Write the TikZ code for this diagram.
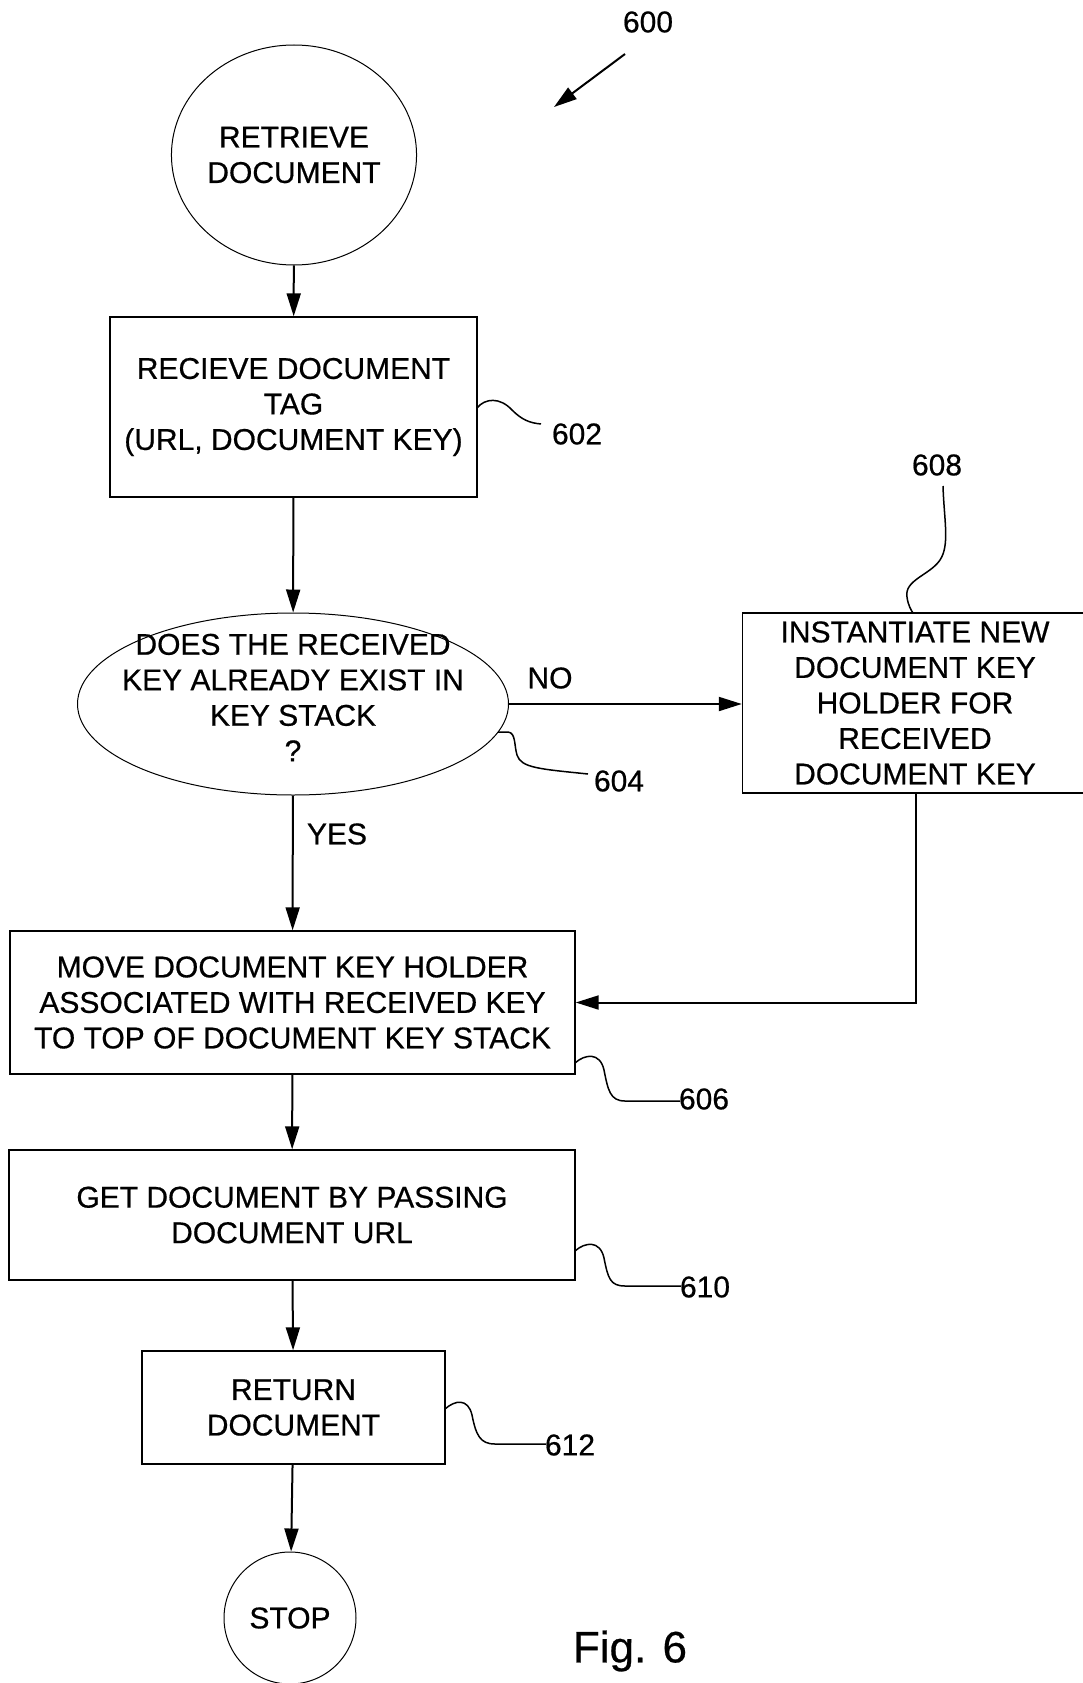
\documentclass[tikz,border=0pt]{standalone}
\usepackage{fontspec}
\setmainfont[FakeBold=0.6]{Liberation Sans}
\usetikzlibrary{shapes.geometric,arrows.meta}
\begin{document}
\begin{tikzpicture}[x=1pt,y=1pt,
  every node/.style={font=\fontsize{30}{35.5}\selectfont},
  procbox/.style={draw,line width=1.4pt,rectangle,align=center,inner sep=0pt},
  termnode/.style={draw,line width=1pt,ellipse,align=center,inner sep=0pt},
  flow/.style={line width=2pt,-{Triangle[length=23pt,width=14pt]}},
  leader/.style={line width=1.5pt},
  reflabel/.style={inner sep=0pt}]
\useasboundingbox (0,0) rectangle (1083,-1683);
% nodes
\node[termnode,minimum width=230pt,minimum height=220pt] (start) at (294,-155) {RETRIEVE\\DOCUMENT};
\node[procbox,minimum width=367pt,minimum height=180pt] (b602) at (293.5,-407) {RECIEVE DOCUMENT\\TAG\\(URL, DOCUMENT KEY)};
\node[termnode,minimum width=431pt,minimum height=182pt] (d604) at (293,-704) {};
\node[align=center] (t604) at (293,-697.5) {DOES THE RECEIVED\\KEY ALREADY EXIST IN\\KEY STACK\\?};
\node[procbox,minimum width=347pt,minimum height=180pt] (b608) at (916,-703) {};
\node[align=center] (t608) at (915,-703) {INSTANTIATE NEW\\DOCUMENT KEY\\HOLDER FOR\\RECEIVED\\DOCUMENT KEY};
\node[procbox,minimum width=565pt,minimum height=143pt] (b606) at (292.5,-1002.5) {MOVE DOCUMENT KEY HOLDER\\ASSOCIATED WITH RECEIVED KEY\\TO TOP OF DOCUMENT KEY STACK};
\node[procbox,minimum width=566pt,minimum height=130pt] (b610) at (292,-1215) {GET DOCUMENT BY PASSING\\DOCUMENT URL};
\node[procbox,minimum width=303pt,minimum height=113pt] (b612) at (293.5,-1407.5) {RETURN\\DOCUMENT};
\node[termnode,minimum width=132pt,minimum height=132pt] (stop) at (290,-1618) {STOP};
% labels
\node[reflabel] (l600) at (648,-22) {600};
\node[reflabel] (l602) at (577,-434) {602};
\node[reflabel] (l608) at (937,-465) {608};
\node[reflabel] (l604) at (619,-781) {604};
\node[reflabel] (l606) at (704,-1099) {606};
\node[reflabel] (l610) at (705,-1287) {610};
\node[reflabel] (l612) at (570,-1445) {612};
\node[reflabel] (lno) at (550,-678) {NO};
\node[reflabel] (lyes) at (337,-834) {YES};
\node[inner sep=0pt,font=\fontsize{44}{50}\selectfont] (fig) at (630,-1651) {Fig. 6};
% 600 pointer
\coordinate (p600a) at (625,-54);
\coordinate (p600b) at (554,-107);
\draw[flow] (p600a) -- (p600b);
% connectors
\draw[flow] (start) -- (b602);
\draw[flow] (b602) -- (d604);
\draw[flow] (d604) -- (b606);
\draw[flow] (d604.east) -- (b608.west |- d604.east);
\draw[flow] (b608.south) |- (b606.east);
\draw[flow] (b606) -- (b610);
\draw[flow] (b610) -- (b612);
\draw[flow] (b612) -- (stop);
% leader lines
\draw[leader] (477,-408) .. controls (485,-398) and (500,-397) .. (512,-410) .. controls (522,-420) and (530,-423) .. (541,-424);
\draw[leader] (498,-732) -- (508,-732) .. controls (516,-733) and (514,-745) .. (517,-755) .. controls (521,-768) and (540,-769) .. (588,-774);
\draw[leader] (943,-486) .. controls (944,-520) and (950,-545) .. (940,-560) .. controls (930,-575) and (904,-580) .. (907,-597) .. controls (908,-605) and (911,-610) .. (913,-613);
\draw[leader] (575,-1063) .. controls (585,-1054) and (600,-1052) .. (604,-1070) .. controls (608,-1090) and (610,-1101) .. (625,-1101) -- (680,-1101);
\draw[leader] (575,-1251) .. controls (585,-1242) and (600,-1240) .. (604,-1258) .. controls (608,-1278) and (610,-1286) .. (625,-1286) -- (681,-1286);
\draw[leader] (445,-1409) .. controls (455,-1400) and (468,-1398) .. (472,-1415) .. controls (476,-1435) and (480,-1444) .. (495,-1444) -- (546,-1444);
\end{tikzpicture}
\end{document}
